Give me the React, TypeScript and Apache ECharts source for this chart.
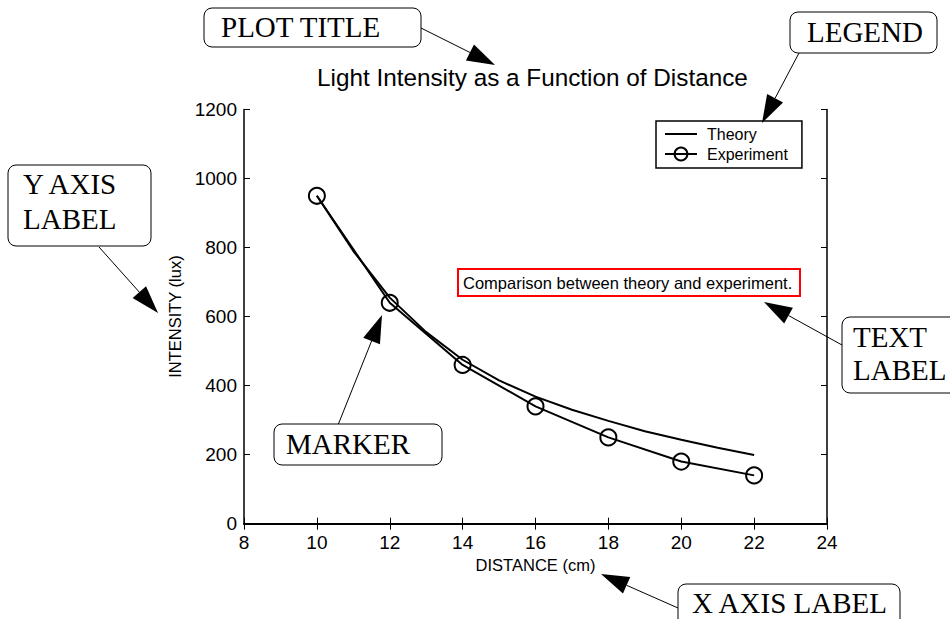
import React, { useEffect, useRef } from "react";
import * as echarts from "echarts";

const distance = [10, 12, 14, 16, 18, 20, 22];
const experiment = [950, 640, 460, 340, 250, 180, 140];
const theoryX = [10, 11, 12, 13, 14, 15, 16, 17, 18, 19, 20, 21, 22];
const theoryY = [950, 790, 655, 555, 475, 415, 368, 330, 298, 268, 243, 220, 199];
const titleText = "Light Intensity as a Function of Distance";
const xName = "DISTANCE (cm)";
const yName = "INTENSITY (lux)";
const noteText = "Comparison between theory and experiment.";

function arrow(x1: number, y1: number, x2: number, y2: number) {
  const dx = x2 - x1;
  const dy = y2 - y1;
  const len = Math.sqrt(dx * dx + dy * dy);
  const ux = dx / len;
  const uy = dy / len;
  const L = 28;
  const W = 9;
  const bx = x2 - ux * L;
  const by = y2 - uy * L;
  const nx = -uy;
  const ny = ux;
  return [
    { type: "line", shape: { x1, y1, x2: bx, y2: by }, style: { stroke: "#000", lineWidth: 1 }, z: 100 },
    {
      type: "polygon",
      shape: { points: [[x2, y2], [bx + nx * W, by + ny * W], [bx - nx * W, by - ny * W]] },
      style: { fill: "#000" },
      z: 100,
    },
  ];
}

function box(x: number, y: number, w: number, h: number) {
  return { type: "rect", shape: { x, y, width: w, height: h, r: 8 }, style: { fill: "#fff", stroke: "#000", lineWidth: 1 }, z: 100 };
}

function label(text: string, x: number, y: number) {
  return {
    type: "text",
    x,
    y,
    style: { text, fill: "#000", font: "29px 'Liberation Serif'", verticalAlign: "middle", align: "left" },
    z: 101,
  };
}

export default function App() {
  const ref = useRef<HTMLDivElement>(null);
  useEffect(() => {
    if (!ref.current) return;
    const chart = echarts.init(ref.current, null, { renderer: "svg" });
    const axisLine = { lineStyle: { color: "#000", width: 1.5 } };
    const sans = "'Liberation Sans', Arial, sans-serif";
    chart.setOption({
      animation: false,
      backgroundColor: "#fff",
      title: {
        text: titleText,
        left: 317,
        top: 65,
        padding: 0,
        textStyle: { fontFamily: sans, fontSize: 24.3, fontWeight: "normal", color: "#000" },
      },
      legend: {
        orient: "vertical",
        left: 656,
        top: 121,
        padding: [5, 14, 6, 8],
        itemWidth: 32,
        itemHeight: 16,
        itemGap: 4,
        borderColor: "#000",
        borderWidth: 1.5,
        backgroundColor: "#fff",
        textStyle: { fontFamily: sans, fontSize: 16, color: "#000", padding: [0, 0, 0, 5] },
        data: ["Theory", "Experiment"],
      },
      grid: { left: 244, right: 123, top: 109.5, bottom: 95.3, containLabel: false },
      xAxis: [
        {
          type: "value",
          min: 8,
          max: 24,
          interval: 2,
          name: xName,
          nameLocation: "middle",
          nameGap: 32,
          nameTextStyle: { fontFamily: sans, fontSize: 16.5, color: "#000" },
          axisLine: { lineStyle: { color: "#000", width: 2 } },
          axisTick: { inside: true, length: 6, lineStyle: { color: "#000" } },
          axisLabel: { fontFamily: sans, fontSize: 19, color: "#000", margin: 9 },
          splitLine: { show: false },
        },
        {
          type: "value",
          position: "top",
          min: 8,
          max: 24,
          interval: 2,
          axisLine,
          axisTick: { inside: true, length: 6, lineStyle: { color: "#000" } },
          axisLabel: { show: false },
          splitLine: { show: false },
        },
      ],
      yAxis: [
        {
          type: "value",
          min: 0,
          max: 1200,
          interval: 200,
          name: yName,
          nameLocation: "middle",
          nameGap: 60,
          nameTextStyle: { fontFamily: sans, fontSize: 16.5, color: "#000" },
          axisLine,
          axisTick: { inside: true, length: 6, lineStyle: { color: "#000" } },
          axisLabel: { fontFamily: sans, fontSize: 19, color: "#000", margin: 7, formatter: (v: number) => String(v) },
          splitLine: { show: false },
        },
        {
          type: "value",
          position: "right",
          min: 0,
          max: 1200,
          interval: 200,
          axisLine,
          axisTick: { inside: true, length: 6, lineStyle: { color: "#000" } },
          axisLabel: { show: false },
          splitLine: { show: false },
        },
      ],
      series: [
        {
          name: "Theory",
          type: "line",
          symbol: "circle",
          showSymbol: false,
          symbolSize: 0,
          data: theoryX.map((x, i) => [x, theoryY[i]]),
          lineStyle: { color: "#000", width: 2 },
          itemStyle: { color: "rgba(0,0,0,0)", borderWidth: 0, borderColor: "rgba(0,0,0,0)" },
        },
        {
          name: "Experiment",
          type: "line",
          symbol: "circle",
          symbolSize: 16,
          data: distance.map((x, i) => [x, experiment[i]]),
          lineStyle: { color: "#000", width: 2 },
          itemStyle: { color: "rgba(0,0,0,0)", borderColor: "#000", borderWidth: 2 },
        },
      ],
      graphic: [
        { type: "rect", shape: { x: 458, y: 269, width: 342, height: 27 }, style: { fill: "#fff", stroke: "#f00", lineWidth: 2 }, z: 90 },
        { type: "text", x: 463, y: 283, style: { text: noteText, fill: "#000", font: `16.5px ${sans}`, verticalAlign: "middle" }, z: 91 },
        ...arrow(421, 28, 495, 65),
        ...arrow(799, 53, 762, 123),
        ...arrow(99, 247, 158, 313),
        ...arrow(842, 345, 764, 302),
        ...arrow(338, 425, 382, 315),
        ...arrow(678, 608, 601, 574),
        box(204, 8, 217, 39),
        label("PLOT TITLE", 221, 27),
        box(790, 12, 147, 41),
        label("LEGEND", 807, 32),
        box(8, 165, 143, 81),
        label("Y AXIS", 23, 184),
        label("LABEL", 23, 219),
        box(842, 317, 130, 76),
        label("TEXT", 853, 337),
        label("LABEL", 853, 370),
        box(274, 424, 168, 41),
        label("MARKER", 286, 444),
        box(678, 584, 222, 50),
        label("X AXIS LABEL", 692, 603),
      ],
    });
    return () => chart.dispose();
  }, []);
  return <div ref={ref} style={{ width: 950, height: 619, position: "absolute", left: 0, top: 0 }} />;
}
